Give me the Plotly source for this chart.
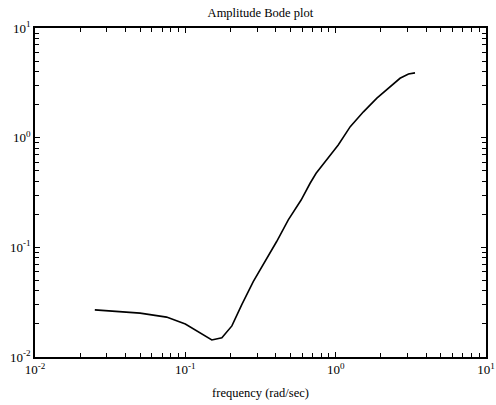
import plotly.graph_objects as go

freq = [0.025, 0.05, 0.075, 0.1, 0.15, 0.175, 0.204, 0.237, 0.283, 0.339, 0.405,
        0.484, 0.589, 0.676, 0.741, 0.942, 1.04, 1.25, 1.53, 1.88, 2.30, 2.68, 3.05, 3.37]
amp = [0.0269, 0.0251, 0.0231, 0.0200, 0.0143, 0.0150, 0.0192, 0.0299, 0.0486, 0.0741, 0.113,
       0.178, 0.270, 0.384, 0.473, 0.721, 0.857, 1.26, 1.72, 2.29, 2.92, 3.48, 3.81, 3.90]

major_vals = [0.01, 0.1, 1, 10]
major_text = ["10<sup>-2</sup>", "10<sup>-1</sup>", "10<sup>0</sup>", "10<sup>1</sup>"]
minor_vals = [m * d for d in [0.01, 0.1, 1] for m in range(2, 10)]

font = dict(family="Liberation Serif, Times New Roman, serif", size=13, color="black")

fig = go.Figure()
fig.add_trace(go.Scatter(x=freq, y=amp, mode="lines", line_shape="linear",
                         line=dict(color="black", width=1.6), showlegend=False))

axis_common = dict(
    type="log", showgrid=False, zeroline=False, automargin=False,
    showline=True, linecolor="black", linewidth=1.5, mirror="allticks",
    ticks="inside", ticklen=5, tickwidth=1.2, tickcolor="black",
    tickvals=major_vals, ticktext=major_text,
    minor=dict(tickvals=minor_vals, ticks="inside", ticklen=4, tickwidth=1.2,
               tickcolor="black", showgrid=False),
    tickfont=font,
)

fig.update_layout(
    width=496, height=405,
    margin=dict(l=35, r=10, t=28, b=48, autoexpand=False),
    paper_bgcolor="white", plot_bgcolor="white",
    font=font,
    title=dict(text="Amplitude Bode plot", x=0.525, xanchor="center", y=0.97, yanchor="middle",
               font=dict(family="Liberation Serif, serif", size=12.5, color="black")),
    xaxis=dict(axis_common, range=[-2, 1],
               title=dict(text="frequency (rad/sec)", standoff=12,
                          font=dict(family="Liberation Serif, serif", size=12.5, color="black"))),
    yaxis=dict(axis_common, range=[-2, 1]),
)

fig.write_html("out.html", config={"displayModeBar": False},
               post_script="document.body.style.margin='0';document.body.style.padding='0';")
